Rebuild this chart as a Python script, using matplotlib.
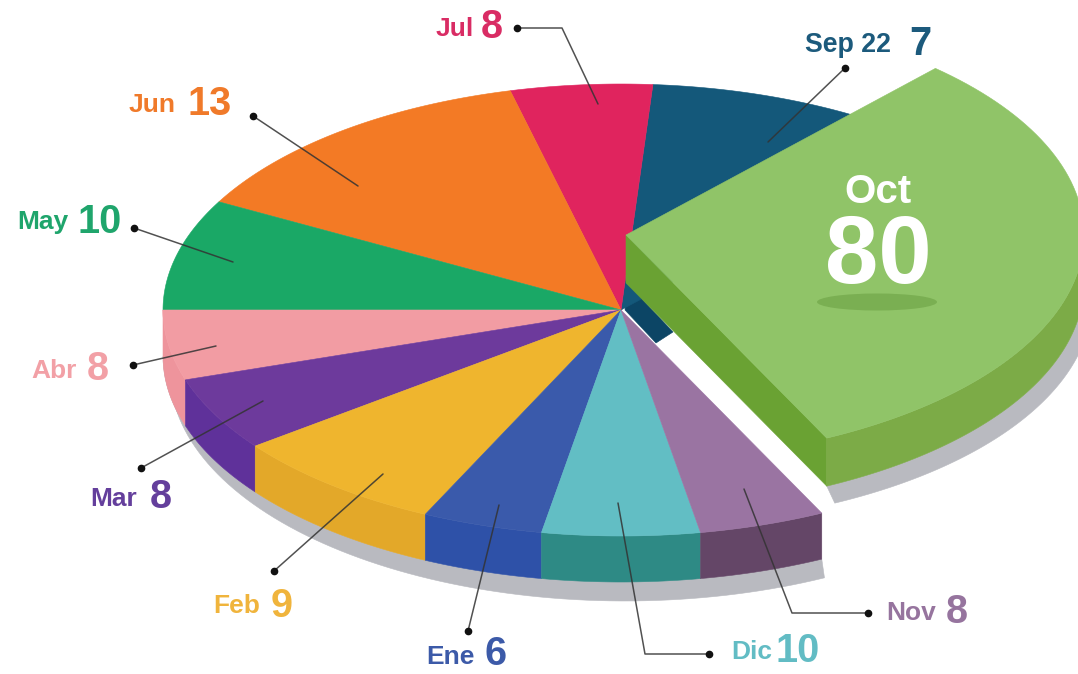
import numpy as np
import matplotlib
matplotlib.use("Agg")
import matplotlib.pyplot as plt
from matplotlib.patches import Polygon, Ellipse

plt.rcParams['font.family'] = ['Liberation Sans', 'DejaVu Sans']

# Chart data, in the reference's order
months = ["Sep 22", "Jul", "Jun", "May", "Abr", "Mar", "Feb", "Ene", "Dic", "Nov", "Oct"]
values = [7, 8, 13, 10, 8, 8, 9, 6, 10, 8, 80]
# Slice sweeps (degrees on the tilted disc);
# the reference's slices are not strictly proportional to its values.
sweeps = [38.5, 18, 47.4, 28.6, 18, 19, 27.7, 15.3, 20, 16, 111.5]
top_colors = ["#14587a", "#e0245e", "#f37a25", "#1aa866", "#f29ca3", "#6d3a9c",
              "#efb52e", "#3a5aab", "#62bec4", "#9a74a2", "#90c468"]
wall_colors = ["#0c4565", "#b81c4c", "#d96a1c", "#148a54", "#ee949c", "#5f319a",
               "#e3a829", "#2e51a8", "#2e8a85", "#644667", "#7cab47"]
label_colors = ["#1c5a7c", "#d92c64", "#f07a2a", "#1fa56c", "#f2a0a6", "#643f9c",
                "#f0b43c", "#3c5aa8", "#62bcc4", "#96749e", "#ffffff"]

START = 47.5
CX, CY, RX, RY, DEPTH = 621, 310, 458, 226, 46

fig = plt.figure(figsize=(10.78, 6.74), dpi=100, facecolor="white")
ax = fig.add_axes([0, 0, 1, 1])
ax.set_xlim(0, 1078)
ax.set_ylim(674, 0)
ax.axis("off")


def rim(t0, t1, cx=CX, cy=CY, rx=RX, ry=RY, n=80):
    t = np.radians(np.linspace(t0, t1, n))
    return np.column_stack([cx + rx * np.cos(t), cy - ry * np.sin(t)])


def poly(pts, color, z):
    ax.add_patch(Polygon(pts, closed=True, facecolor=color, edgecolor=color,
                         linewidth=0.4, zorder=z))


edges = START + np.concatenate([[0], np.cumsum(sweeps)])

# cast shadows
feb_start = edges[4]
nov_end = edges[10]
poly(np.vstack([rim(feb_start, nov_end, 625, 372, 455, 229),
                rim(nov_end, feb_start, CX, CY + DEPTH)]), "#b9bac0", 1)
OX, OY = 626, 235
oct_t0, oct_t1 = nov_end, nov_end + sweeps[-1]
poly(np.vstack([rim(oct_t0, 372, OX + 8, OY + 65),
                rim(372, oct_t0, OX, OY + 48)]), "#b9bac0", 1)

# side walls of the main disc
for i in range(4, 10):
    a, b = edges[i], edges[i + 1]
    poly(np.vstack([rim(a, b), rim(b, a, CX, CY + DEPTH)]), wall_colors[i], 2)

# dark cut face of the slice behind the detached one
poly([(627, 283), (625, 310), (656, 343), (673, 332)], wall_colors[0], 2)

# top faces of the main disc
for i in range(10):
    a, b = edges[i], edges[i + 1]
    poly(np.vstack([[(CX, CY)], rim(a, b)]), top_colors[i], 3)

# leader lines
leaders = [
    [(845, 68), (768, 142)],
    [(517, 28), (562, 28), (598, 104)],
    [(253, 116), (358, 186)],
    [(134, 228), (233, 262)],
    [(133, 365), (216, 346)],
    [(141, 468), (263, 401)],
    [(274, 571), (383, 474)],
    [(468, 631), (499, 505)],
    [(709, 654), (645, 654), (618, 503)],
    [(868, 613), (792, 613), (744, 489)],
]
for pts in leaders:
    xs, ys = zip(*pts)
    ax.plot(xs, ys, color="#333333", lw=1.1, zorder=4, solid_capstyle="round", alpha=0.85)
    ax.plot(xs[0], ys[0], "o", color="#111111", ms=4.5, zorder=4)

# detached slice
poly(np.vstack([[(OX, OY), (OX, OY + 48)],
                rim(oct_t0, oct_t0, OX, OY + 48, n=2)[:1],
                rim(oct_t0, oct_t0, OX, OY, n=2)[:1]]), "#6aa233", 5)
poly(np.vstack([rim(oct_t0, 362, OX, OY), rim(362, oct_t0, OX, OY + 48)]), wall_colors[10], 5)
poly(np.vstack([[(OX, OY)], rim(oct_t0, oct_t1, OX, OY)]), top_colors[10], 6)
ax.add_patch(Ellipse((877, 302), 120, 17, facecolor="#7aaf52", edgecolor="none", zorder=7))

# labels: name left edge / baseline, number left edge / baseline
label_pos = [
    (805, 52, 909, 55), (436, 36, 481, 38), (129, 112, 187, 115), (17, 229, 77, 233),
    (31, 378, 87, 380), (90, 506, 150, 508), (213, 613, 271, 617), (426, 664, 485, 665),
    (731, 659, 776, 662), (886, 620, 946, 623),
]
for i, (nx, ny, vx, vy) in enumerate(label_pos):
    ax.text(nx, ny, months[i], color=label_colors[i], fontsize=19 if i else 19.3,
            fontweight="bold", ha="left", va="baseline", zorder=8)
    ax.text(vx, vy, str(values[i]), color=label_colors[i], fontsize=28.5,
            fontweight="bold", ha="left", va="baseline", zorder=8)

ax.text(878, 203, months[10], color="white", fontsize=29, fontweight="bold",
        ha="center", va="baseline", zorder=8)
ax.text(878.5, 283, str(values[10]), color="white", fontsize=69, fontweight="bold",
        ha="center", va="baseline", zorder=8)

fig.savefig("out.png", dpi=100, facecolor="white")
